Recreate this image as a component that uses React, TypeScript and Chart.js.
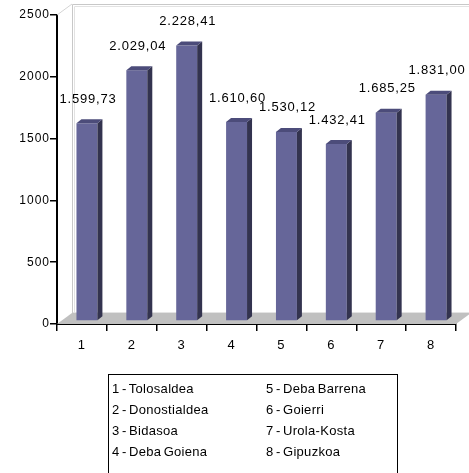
import React, { useEffect, useRef } from "react";
import { Chart, registerables } from "chart.js";

Chart.register(...registerables);

const categories = ["1", "2", "3", "4", "5", "6", "7", "8"];
const values = [1599.73, 2029.04, 2228.41, 1610.6, 1530.12, 1432.41, 1685.25, 1831.0];
const yTicks = [0, 500, 1000, 1500, 2000, 2500];
const legendLeft = ["1 - Tolosaldea", "2 - Donostialdea", "3 - Bidasoa", "4 - Deba Goiena"];
const legendRight = ["5 - Deba Barrena", "6 - Goierri", "7 - Urola-Kosta", "8 - Gipuzkoa"];

const FONT = 'Arial, "Liberation Sans", sans-serif';

function formatEs(v: number): string {
  const fixed = v.toFixed(2);
  const [intPart, dec] = fixed.split(".");
  const grouped = intPart.replace(/\B(?=(\d{3})+(?!\d))/g, ".");
  return grouped + "," + dec;
}

const threeD = {
  id: "threeD",
  beforeDraw(chart: any) {
    chart.ctx.letterSpacing = "1px";
  },
  beforeDatasetsDraw(chart: any) {
    const { ctx, chartArea } = chart;
    const L = chartArea.left;
    const R = chartArea.right;
    const T = chartArea.top;
    const B = chartArea.bottom;
    const DX = 15;
    const DY = -11;
    ctx.save();
    // floor
    ctx.beginPath();
    ctx.moveTo(L, B);
    ctx.lineTo(R, B);
    ctx.lineTo(R + DX, B + DY);
    ctx.lineTo(L + DX, B + DY);
    ctx.closePath();
    ctx.fillStyle = "#c0c0c0";
    ctx.fill();
    // floor back edge
    ctx.strokeStyle = "#e4e4e4";
    ctx.lineWidth = 1;
    ctx.beginPath();
    ctx.moveTo(L + DX, B + DY - 0.5);
    ctx.lineTo(R + DX, B + DY - 0.5);
    ctx.stroke();
    // back wall lines (double)
    ctx.strokeStyle = "#c8c8c8";
    ctx.beginPath();
    ctx.moveTo(L + DX + 0.5, B + DY);
    ctx.lineTo(L + DX + 0.5, T + DY + 0.5);
    ctx.lineTo(chart.width, T + DY + 0.5);
    ctx.stroke();
    ctx.strokeStyle = "#e2e2e2";
    ctx.beginPath();
    ctx.moveTo(L + DX + 2.5, B + DY);
    ctx.lineTo(L + DX + 2.5, T + DY + 2.5);
    ctx.lineTo(chart.width, T + DY + 2.5);
    ctx.stroke();
    // left diagonal
    ctx.strokeStyle = "#d4d4d4";
    ctx.beginPath();
    ctx.moveTo(L, T);
    ctx.lineTo(L + DX, T + DY);
    ctx.stroke();
    ctx.restore();
  },
  afterDatasetsDraw(chart: any) {
    const { ctx } = chart;
    const meta = chart.getDatasetMeta(0);
    const SX = 5;
    const SY = -3;
    const BX = 5;
    const BY = -4;
    ctx.save();
    meta.data.forEach((el: any, i: number) => {
      const w = el.width;
      const x0 = el.x - w / 2 + SX;
      const x1 = x0 + w;
      const yT = el.y + SY;
      const yB = el.base + SY;
      // front
      ctx.fillStyle = "#666699";
      ctx.fillRect(x0, yT, w, yB - yT);
      // side
      ctx.fillStyle = "#33334f";
      ctx.beginPath();
      ctx.moveTo(x1, yT);
      ctx.lineTo(x1 + BX, yT + BY);
      ctx.lineTo(x1 + BX, yB + BY);
      ctx.lineTo(x1, yB);
      ctx.closePath();
      ctx.fill();
      // top
      ctx.fillStyle = "#4c4c7a";
      ctx.beginPath();
      ctx.moveTo(x0, yT);
      ctx.lineTo(x1, yT);
      ctx.lineTo(x1 + BX, yT + BY);
      ctx.lineTo(x0 + BX, yT + BY);
      ctx.closePath();
      ctx.fill();
      // label
      ctx.fillStyle = "#000";
      ctx.font = "13px " + FONT;
      ctx.letterSpacing = "0.8px";
      ctx.textAlign = "center";
      ctx.textBaseline = "middle";
      ctx.fillText(formatEs(values[i]), el.x + 6, yT - 24);
    });
    ctx.restore();
  },
};

function ChartCanvas() {
  const ref = useRef<HTMLCanvasElement | null>(null);
  useEffect(() => {
    if (!ref.current) return;
    const chart = new Chart(ref.current, {
      type: "bar",
      data: {
        labels: categories,
        datasets: [
          {
            data: values,
            backgroundColor: "rgba(0,0,0,0)",
            borderWidth: 0,
            barPercentage: 0.42,
            categoryPercentage: 1,
          },
        ],
      },
      options: {
        animation: false,
        responsive: false,
        devicePixelRatio: 1,
        layout: { padding: { left: 0, right: 13, top: 15, bottom: 113 } },
        plugins: { legend: { display: false }, tooltip: { enabled: false } },
        scales: {
          x: {
            type: "category",
            grid: {
              offset: true,
              drawOnChartArea: false,
              drawTicks: true,
              tickLength: 7,
              color: "#000",
              lineWidth: 1.5,
            },
            border: { display: true, color: "#000", width: 2 },
            ticks: { color: "#000", font: { size: 13, family: FONT }, padding: 7 },
            afterFit: (s: any) => {
              s.height = 36;
            },
          },
          y: {
            min: 0,
            max: 2500,
            afterBuildTicks: (s: any) => {
              s.ticks = yTicks.map((v) => ({ value: v }));
            },
            grid: {
              drawOnChartArea: false,
              drawTicks: true,
              tickLength: 7,
              color: "#000",
              lineWidth: 1.5,
            },
            border: { display: true, color: "#000", width: 2 },
            ticks: {
              color: "#000",
              font: { size: 12, family: FONT },
              padding: 0,
              callback: (v: any) => String(v),
            },
            afterFit: (s: any) => {
              s.width = 57;
            },
          },
        },
      },
      plugins: [threeD],
    });
    return () => chart.destroy();
  }, []);
  return (
    <canvas
      ref={ref}
      width={469}
      height={473}
      style={{ position: "absolute", left: 0, top: 0, width: 469, height: 473 }}
    />
  );
}

export default function App() {
  const itemStyle: React.CSSProperties = {
    position: "absolute",
    fontFamily: FONT,
    fontSize: 13,
    lineHeight: "21px",
    letterSpacing: "0.3px",
    wordSpacing: "-1.5px",
    color: "#000",
    whiteSpace: "nowrap",
  };
  return (
    <div
      style={{
        position: "fixed",
        left: 0,
        top: 0,
        width: 469,
        height: 473,
        background: "#fff",
        overflow: "hidden",
      }}
    >
      <ChartCanvas />
      <div
        style={{
          position: "absolute",
          left: 108,
          top: 374,
          width: 290,
          height: 120,
          boxSizing: "border-box",
          border: "1px solid #000",
        }}
      >
        <div style={{ ...itemStyle, left: 3, top: 3 }}>
          {legendLeft.map((t) => (
            <div key={t}>{t}</div>
          ))}
        </div>
        <div style={{ ...itemStyle, left: 157, top: 3 }}>
          {legendRight.map((t) => (
            <div key={t}>{t}</div>
          ))}
        </div>
      </div>
    </div>
  );
}
